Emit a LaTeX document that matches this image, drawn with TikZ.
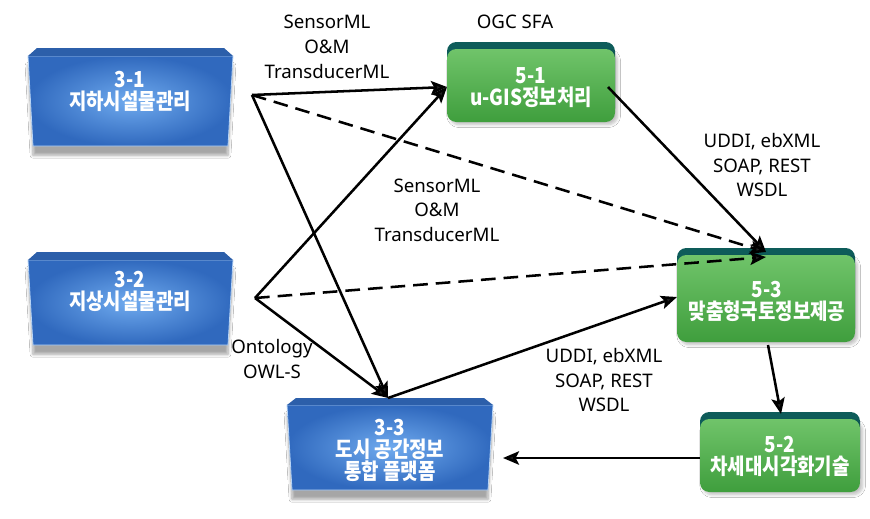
\documentclass[tikz,border=0pt]{standalone}
\usepackage{fontspec}
\setmainfont{Noto Sans}
\newfontfamily\kr{Noto Sans CJK KR}[FakeStretch=0.86]
\usetikzlibrary{arrows.meta,shadows.blur}
\definecolor{bluedark}{HTML}{3069BE}
\definecolor{bluelight}{HTML}{6FAAEE}
\definecolor{bluelip}{HTML}{2C5FAA}
\definecolor{greentop}{HTML}{70C46A}
\definecolor{greenbot}{HTML}{3F9E3D}
\definecolor{tealband}{HTML}{0E5C5A}
\newcommand\mybluebox[5]{%
  \shade[blur shadow={shadow xshift=0pt,shadow yshift=-7pt,shadow opacity=35,shadow blur steps=8},
         inner color=bluelight, outer color=bluedark, draw=bluelight!50!white, line width=0.6pt]
    (#1,#4) -- (#2,#4) -- ({#2-5},#5) -- ({#1+5},#5) -- cycle;
  \fill[bluelip] ({#1+9},#3) -- ({#2-9},#3) -- (#2,#4) -- (#1,#4) -- cycle;
}
\newcommand\mygreenbox[4]{%
  \fill[tealband, rounded corners=7pt] (#1,#3) rectangle (#2,{#4-4});
  \shade[gbox, blur shadow={shadow xshift=2pt,shadow yshift=-2pt,shadow opacity=25,shadow blur steps=5}]
    (#1,{#3+7}) rectangle (#2,#4);
}
\begin{document}
\begin{tikzpicture}[x=0.75pt,y=-0.75pt,
  conn/.style={line width=1.9pt,-{Stealth[length=12pt,width=10pt,inset=2.5pt]}},
  dconn/.style={conn,dash pattern=on 11pt off 6pt},
  lbl/.style={font=\fontsize{14}{18.5}\selectfont,align=center,inner sep=0pt},
  btxt/.style={text=white,font=\kr\bfseries\fontsize{16.5}{16.5}\selectfont,align=center,inner sep=0pt},
  gbox/.style={rounded corners=7pt, top color=greentop, bottom color=greenbot},
]
\useasboundingbox (0,0) rectangle (870,518);
\fill[white] (0,0) rectangle (870,518);

% blue boxes
\mybluebox{28}{233}{48}{56}{146}
\mybluebox{28}{233}{252}{260}{345}
\mybluebox{287}{493}{398}{405}{490}

% green boxes
\mygreenbox{447}{615}{42}{122}
\mygreenbox{677}{855}{248}{342}
\mygreenbox{700}{860}{412}{492}

% box texts
\node[btxt] (b31) at (130,91) {3-1\\지하시설물관리};
\node[btxt] (b32) at (130,291) {3-2\\지상시설물관리};
\node[btxt] (b33) at (390,450) {3-3\\도시 공간정보\\통합 플랫폼};
\node[btxt] (b51) at (531,88) {5-1\\u-GIS정보처리};
\node[btxt] (b53) at (767,301) {5-3\\맞춤형국토정보제공};
\node[btxt] (b52) at (780,456) {5-2\\차세대시각화기술};

% connection points
\coordinate (s31) at (252,95);
\coordinate (s32) at (255,298);
\coordinate (in51) at (447,87);
\coordinate (out51) at (608,87);
\coordinate (in53a) at (766,252);
\coordinate (in53b) at (766,257);
\coordinate (in53l) at (677,297);
\coordinate (in33t) at (388,398);
\coordinate (out53) at (768,345);
\coordinate (in52) at (781,414);
\coordinate (out52) at (700,458);
\coordinate (in33r) at (503,458);

% connectors
\draw[conn] (s31) -- (in51);
\draw[conn] (s31) -- (in33t);
\draw[dconn] (s31) -- (in53a);
\draw[conn] (s32) -- (in51);
\draw[conn] (s32) -- (in33t);
\draw[dconn] (s32) -- (in53b);
\draw[conn] (in33t) -- (in53l);
\draw[conn] (out51) -- (in53a);
\draw[conn] (out53) -- (in52);
\draw[conn] (out52) -- (in33r);

% labels
\node[lbl] (l1) at (327,47) {SensorML\\O\&M\\TransducerML};
\node[lbl] (l2) at (515,22) {OGC SFA};
\node[lbl] (l3) at (762,165) {UDDI, ebXML\\SOAP, REST\\WSDL};
\node[lbl] (l4) at (437,210) {SensorML\\O\&M\\TransducerML};
\node[lbl] (l5) at (272,359) {Ontology\\OWL-S};
\node[lbl] (l6) at (604,380) {UDDI, ebXML\\SOAP, REST\\WSDL};
\end{tikzpicture}
\end{document}
